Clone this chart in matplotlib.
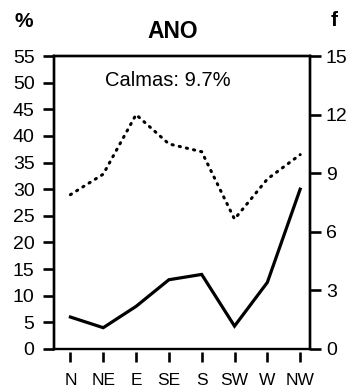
import matplotlib
matplotlib.use("Agg")
import matplotlib.pyplot as plt

directions = ["N", "NE", "E", "SE", "S", "SW", "W", "NW"]
freq_pct = [6.0, 4.0, 8.0, 13.0, 14.0, 4.3, 12.5, 30.0]
speed_f = [7.9, 8.95, 12.0, 10.5, 10.1, 6.65, 8.7, 9.95]
left_ticks = [0, 5, 10, 15, 20, 25, 30, 35, 40, 45, 50, 55]
right_ticks = [0, 3, 6, 9, 12, 15]
title = "ANO"
calm_text = "Calmas: 9.7%"

plt.rcParams['font.family'] = ['Liberation Sans', 'DejaVu Sans']

fig = plt.figure(figsize=(3.52, 3.92), dpi=100)
ax = fig.add_axes([0.1534, 0.1097, 0.7273, 0.7474])
ax2 = ax.twinx()

x = list(range(len(directions)))
ax.plot(x, freq_pct, color='black', lw=2.3, solid_joinstyle='miter')
ax2.plot(x, speed_f, color='black', lw=2.2, linestyle=(0, (0.4, 2.0)),
         dash_capstyle='round')

ax.set_xlim(-0.5, 7.3)
ax.set_ylim(0, 55)
ax2.set_ylim(0, 15)
ax.set_yticks(left_ticks)
ax2.set_yticks(right_ticks)
ax.set_xticks(x)
ax.set_xticklabels(directions)

for a in (ax, ax2):
    for s in a.spines.values():
        s.set_linewidth(1.7)
ax.spines['bottom'].set_position(('outward', 2))
ax.spines['bottom'].set_visible(False)
ax2.spines['bottom'].set_visible(False)
ax.axhline(0, color='black', lw=1.7, clip_on=False, zorder=5)

ax.tick_params(axis='y', direction='out', length=8, width=1.9, labelsize=14, pad=6)
ax2.tick_params(axis='y', direction='out', length=8, width=1.9, labelsize=14, pad=3.5)
ax.tick_params(axis='x', direction='out', length=7.5, width=1.9, labelsize=12.5, pad=7.5)

fig.text(0.068, 0.944, "%", fontsize=15, fontweight='bold', ha='center', va='center')
fig.text(0.949, 0.947, "f", fontsize=15, fontweight='bold', ha='center', va='center')
fig.text(0.491, 0.92, title, fontsize=16.5, fontweight='bold', ha='center', va='center')
ax.text(0.443, 0.915, calm_text, transform=ax.transAxes, fontsize=14.5, ha='center', va='center')

fig.savefig("out.png", dpi=100)
